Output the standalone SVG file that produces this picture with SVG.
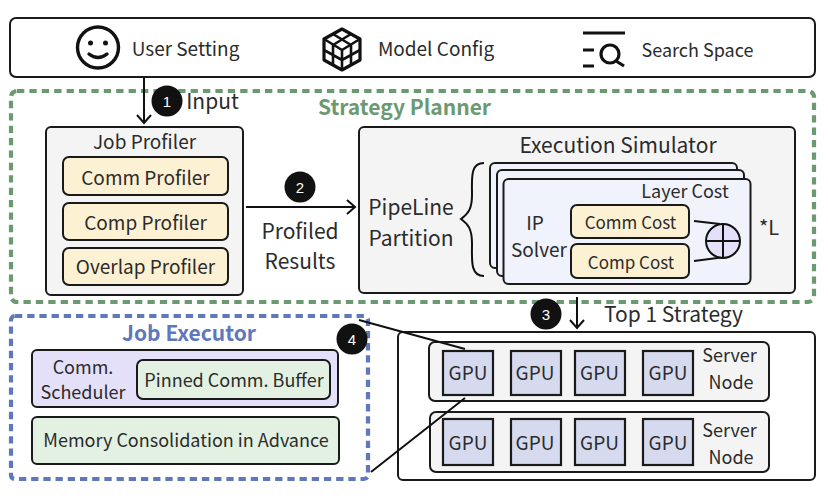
<svg xmlns="http://www.w3.org/2000/svg" width="828" height="498" viewBox="0 0 828 498">
<defs>
<style>
text{font-family:"Noto Sans CJK SC","Noto Sans",sans-serif;fill:#2b2b2b;text-anchor:middle}
.b{stroke:#1a1a1a;stroke-width:2}
.g{fill:#f4f4f4}.y{fill:#fdf1d3}.p{fill:#e5e0fa}.m{fill:#e3f1e3}.c{fill:#f0f2fc}.u{fill:#d6daef;stroke:#1a1a1a;stroke-width:2.2}
.l{fill:none;stroke:#111;stroke-width:2}
.s16{font-size:17px}.s18{font-size:18px}.s19{font-size:19px}.s21{font-size:21px}
.n{font-size:15px;fill:#fff;font-family:"Liberation Sans",sans-serif}
.d{fill:#111}
</style>
<marker id="a" markerWidth="16" markerHeight="16" refX="12" refY="8" orient="auto" markerUnits="userSpaceOnUse"><path d="M4 1L12 8L4 15" fill="none" stroke="#111" stroke-width="2"/></marker>
</defs>

<g id="inputs">
<rect x="10" y="18" width="805" height="59" rx="6" fill="#fff" class="b"/>
<g id="smiley" fill="none" stroke="#111" stroke-width="3.400"><circle cx="98" cy="47.500" r="20.500"/><path d="M89 54q9 7 18 0" stroke-linecap="round"/><circle cx="90.500" cy="43" r="2.500" fill="#111" stroke="none"/><circle cx="105.500" cy="43" r="2.500" fill="#111" stroke="none"/></g>
<g id="cube" fill="none" stroke="#111" stroke-width="3.200" stroke-linejoin="round"><path d="M342 29L360 39V60L342 70L324 60V39Z"/><path d="M324 39L342 50L360 39M342 50V70M333 34L351 45M351 34L333 45M324 50L342 60L360 50M333 44V65M351 44V65" stroke-width="2.600"/></g>
<g id="search" fill="none" stroke="#111"><path d="M583 33H625M583 50H594M583 66H594" stroke-width="3"/><circle cx="610" cy="54" r="9" stroke-width="3.200"/><path d="M616 61L624 66" stroke-width="3.200"/></g>
<text class="s19" x="185.500" y="56">User Setting</text>
<text class="s19" x="436" y="56">Model Config</text>
<text class="s18" x="697.500" y="57">Search Space</text>
</g>

<g id="strategy-planner">
<rect x="11" y="91" width="803" height="211" rx="6" fill="none" stroke="#6b9a70" stroke-width="4.200" stroke-dasharray="7.300 5.100"/>
<text x="404.500" y="115" font-weight="700" class="s21" style="fill:#6b9a70">Strategy Planner</text>
</g>

<g id="job-profiler">
<rect x="46" y="127" width="197" height="168" rx="5" class="b g"/>
<text class="s19" x="144.500" y="149">Job Profiler</text>
<rect x="63" y="157" width="165" height="38" rx="6" class="b y"/><text class="s19" x="145.500" y="185">Comm Profiler</text>
<rect x="63" y="203" width="165" height="37" rx="6" class="b y"/><text class="s19" x="145.500" y="230">Comp Profiler</text>
<rect x="63" y="248" width="165" height="37" rx="6" class="b y"/><text class="s19" x="145.500" y="274">Overlap Profiler</text>
</g>

<g id="execution-simulator">
<rect x="359" y="127" width="436" height="166" rx="5" class="b g"/>
<text class="s21" x="618" y="153">Execution Simulator</text>
<text class="s21" x="411" y="215">PipeLine</text>
<text class="s21" x="411" y="246">Partition</text>
<path d="M484 163C470 163 472 178 472 195C472 209 468 214 461 219C468 224 472 229 472 243C472 260 470 276 484 276" class="l"/>
<rect x="490" y="163" width="247" height="105" rx="5" class="b c"/>
<rect x="497" y="170" width="247" height="106" rx="5" class="b c"/>
<rect x="503.500" y="179" width="247" height="105" rx="5" class="b c"/>
<text class="s18" x="685" y="198">Layer Cost</text>
<text class="s19" x="535" y="230">IP</text>
<text class="s19" x="539" y="257">Solver</text>
<rect x="571" y="205" width="118" height="33" rx="6" class="b y"/><text class="s16" x="630.500" y="229">Comm Cost</text>
<rect x="571" y="244" width="118" height="34" rx="6" class="b y"/><text class="s16" x="631" y="269">Comp Cost</text>
<path d="M694 221L720 224M694 261L725 257" class="l"/>
<g id="adder"><circle cx="723" cy="241" r="17" fill="#e5e0fa" stroke="#111" stroke-width="2"/><path d="M706 241H740M723 224V258" class="l"/></g>
<text x="769" y="235" style="font-size:20px">*L</text>
</g>

<g id="job-executor">
<rect x="11" y="316" width="357" height="163" rx="4" fill="none" stroke="#5e78bb" stroke-width="4.200" stroke-dasharray="7.300 4.900"/>
<text x="189" y="341" font-weight="700" class="s21" style="fill:#5e78bb">Job Executor</text>
<rect x="32" y="350" width="306" height="57" rx="5" class="b p"/>
<text class="s18" x="83" y="374">Comm.</text>
<text class="s18" x="83" y="399">Scheduler</text>
<rect x="137" y="360" width="193" height="39" rx="6" class="b m"/>
<text class="s18" x="234" y="387">Pinned Comm. Buffer</text>
<rect x="32" y="417" width="307" height="47" rx="5" class="b m"/>
<text class="s18" x="186" y="447">Memory Consolidation in Advance</text>
</g>

<g id="server-cluster">
<rect x="398" y="332" width="417" height="148" rx="5" fill="#fff" class="b"/>
<g id="server-node-1">
<rect x="429" y="342" width="340" height="59" rx="6" class="b g"/>
<rect x="443" y="351" width="50" height="44" class="u"/><text class="s19" x="468" y="380">GPU</text>
<rect x="511" y="351" width="50" height="44" class="u"/><text class="s19" x="535" y="380">GPU</text>
<rect x="575" y="351" width="50" height="44" class="u"/><text class="s19" x="599.500" y="380">GPU</text>
<rect x="643" y="351" width="50" height="44" class="u"/><text class="s19" x="668" y="380">GPU</text>
<text class="s18" x="729.500" y="362">Server</text><text class="s18" x="731" y="389">Node</text>
</g>
<g id="server-node-2">
<rect x="430" y="412" width="339" height="60" rx="6" class="b g"/>
<rect x="443" y="419" width="50" height="46" class="u"/><text class="s19" x="468" y="450">GPU</text>
<rect x="511" y="419" width="50" height="46" class="u"/><text class="s19" x="535" y="450">GPU</text>
<rect x="575" y="419" width="50" height="46" class="u"/><text class="s19" x="599.500" y="450">GPU</text>
<rect x="643" y="419" width="50" height="46" class="u"/><text class="s19" x="668" y="450">GPU</text>
<text class="s18" x="729.500" y="437">Server</text><text class="s18" x="731" y="464">Node</text>
</g>
</g>

<g id="connectors">
<path d="M144 77V123" class="l" marker-end="url(#a)"/>
<path d="M246 207H355" class="l" marker-end="url(#a)"/>
<path d="M577 297V328" class="l" marker-end="url(#a)"/>
<path d="M359 320L465 349M371 472L465 398" class="l"/>
</g>

<g id="labels">
<circle cx="167" cy="101" r="15.500" class="d"/><text class="n" x="167" y="107">1</text>
<text class="s21" x="212.500" y="109">Input</text>
<circle cx="300" cy="187" r="15.500" class="d"/><text class="n" x="300" y="193">2</text>
<text class="s21" x="300" y="239">Profiled</text>
<text class="s21" x="300" y="269">Results</text>
<circle cx="546" cy="314" r="15.500" class="d"/><text class="n" x="546" y="320">3</text>
<text class="s21" x="673.500" y="322">Top 1 Strategy</text>
<circle cx="352" cy="339" r="15.500" class="d"/><text class="n" x="352" y="345">4</text>
</g>
</svg>
